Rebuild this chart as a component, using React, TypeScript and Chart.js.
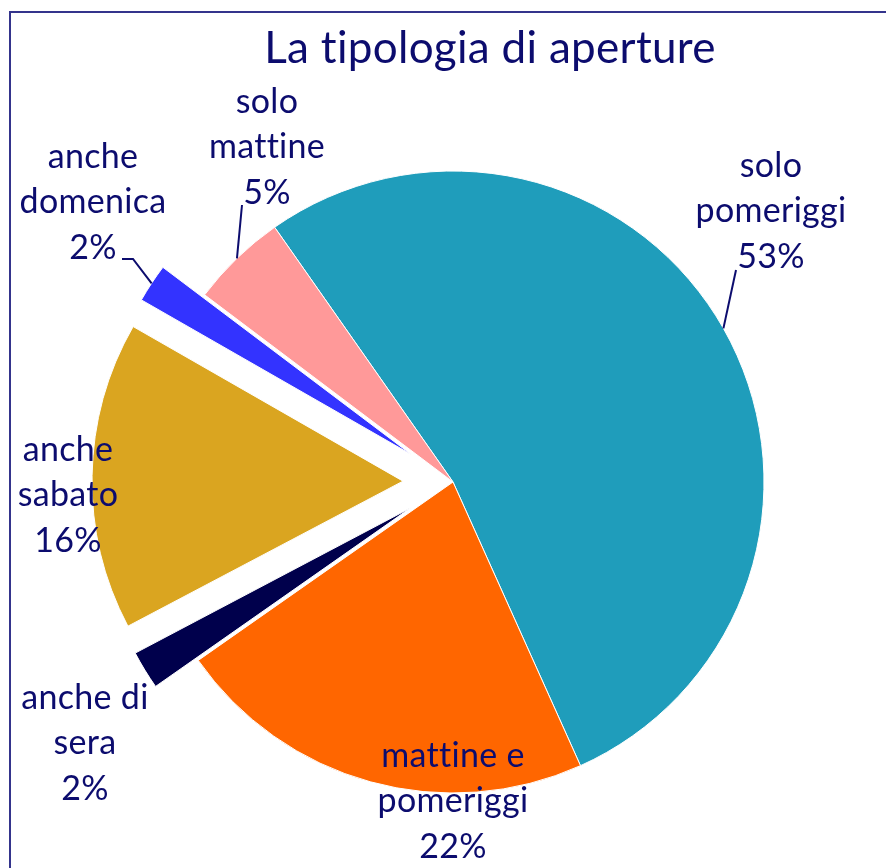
import React, { useEffect, useRef } from "react";
import { Chart, registerables } from "chart.js";

Chart.register(...registerables);

// ---- data ----
const categories = [
  "solo pomeriggi",
  "mattine e pomeriggi",
  "anche di sera",
  "anche sabato",
  "anche domenica",
  "solo mattine",
];
const values = [53, 22, 2, 16, 2, 5];
const percentLabels = ["53%", "22%", "2%", "16%", "2%", "5%"];
const labelLines = [
  ["solo", "pomeriggi"],
  ["mattine e", "pomeriggi"],
  ["anche di", "sera"],
  ["anche", "sabato"],
  ["anche", "domenica"],
  ["solo", "mattine"],
];
const exploded = [false, false, true, true, true, false];
const titleText = "La tipologia di aperture";

// ---- styles / layout ----
const sliceColors = ["#1F9DBB", "#FF6600", "#00004C", "#DAA520", "#3333FF", "#FF9999"];
const textColor = "#0C0C6E";
const frameColor = "#34348C";
const fontFamily = "Lato, 'Open Sans', sans-serif";
const labelFontSize = 34;
const titleFontSize = 44;
const lineGap = 45.5;
const explodeDistance = 50;
const pieRadius = 311;
// label block: position of the middle line's baseline relative to pie center
const labelOffsets: [number, number][] = [
  [318, -260],
  [0, 330],
  [-368, 272],
  [-385, 24],
  [-360, -269],
  [-186, -324],
];
// leader line start points (relative to pie center), optional elbow; null = no leader
const leaderStarts: ([number, number][] | null)[] = [
  [[283, -212]],
  null,
  null,
  null,
  [[-331, -223], [-320, -223]],
  [[-211, -277]],
];

function setSpacing(ctx: any) {
  try {
    ctx.letterSpacing = "0.3px";
  } catch (e) {
    /* ignore */
  }
}

const explodePlugin = {
  id: "explodePlugin",
  beforeDatasetDraw(chart: any, args: any) {
    const ctx = chart.ctx;
    const meta = args.meta;
    meta.data.forEach((el: any, i: number) => {
      ctx.save();
      if (exploded[i]) {
        const mid = (el.startAngle + el.endAngle) / 2;
        ctx.translate(Math.cos(mid) * explodeDistance, Math.sin(mid) * explodeDistance);
      }
      el.draw(ctx);
      ctx.restore();
    });
    return false;
  },
};

const decorPlugin = {
  id: "decorPlugin",
  beforeDraw(chart: any) {
    const ctx = chart.ctx;
    ctx.save();
    ctx.fillStyle = "#ffffff";
    ctx.fillRect(0, 0, chart.width, chart.height);
    ctx.strokeStyle = frameColor;
    ctx.lineWidth = 2;
    ctx.strokeRect(10, 12, chart.width + 20, chart.height + 20);
    ctx.restore();
  },
  afterDraw(chart: any) {
    const ctx = chart.ctx;
    const meta = chart.getDatasetMeta(0);
    const first = meta.data[0];
    const cx = first.x;
    const cy = first.y;
    ctx.save();
    setSpacing(ctx);
    // title
    ctx.fillStyle = textColor;
    ctx.font = `${titleFontSize}px ${fontFamily}`;
    ctx.textAlign = "center";
    ctx.textBaseline = "alphabetic";
    ctx.fillText(titleText, cx + 37, 63);

    // leader lines
    ctx.strokeStyle = textColor;
    ctx.lineWidth = 2;
    meta.data.forEach((el: any, i: number) => {
      const pts = leaderStarts[i];
      if (!pts) return;
      const mid = (el.startAngle + el.endAngle) / 2;
      const r = el.outerRadius + (exploded[i] ? explodeDistance : 0);
      ctx.beginPath();
      ctx.moveTo(cx + pts[0][0], cy + pts[0][1]);
      for (let k = 1; k < pts.length; k++) ctx.lineTo(cx + pts[k][0], cy + pts[k][1]);
      ctx.lineTo(cx + Math.cos(mid) * r, cy + Math.sin(mid) * r);
      ctx.stroke();
    });

    // labels
    ctx.font = `${labelFontSize}px ${fontFamily}`;
    ctx.fillStyle = textColor;
    meta.data.forEach((_el: any, i: number) => {
      const [dx, dy] = labelOffsets[i];
      const lines = [labelLines[i][0], labelLines[i][1], percentLabels[i]];
      lines.forEach((t, k) => {
        ctx.fillText(t, cx + dx, cy + dy + (k - 1) * lineGap);
      });
    });
    ctx.restore();
  },
};

export default function App() {
  const canvasRef = useRef<HTMLCanvasElement | null>(null);

  useEffect(() => {
    const canvas = canvasRef.current;
    if (!canvas) return;
    const chart = new Chart(canvas, {
      type: "pie",
      data: {
        labels: categories,
        datasets: [
          {
            data: values,
            backgroundColor: sliceColors,
            borderColor: "#ffffff",
            borderWidth: 1,
          },
        ],
      },
      options: {
        responsive: false,
        animation: false,
        devicePixelRatio: 1,
        rotation: -35,
        radius: pieRadius,
        layout: { padding: { left: 20, top: 96, right: 0, bottom: 0 } },
        plugins: {
          legend: { display: false },
          tooltip: { enabled: false },
          title: { display: false },
        },
      } as any,
      plugins: [explodePlugin, decorPlugin],
    });
    return () => chart.destroy();
  }, []);

  return (
    <div style={{ position: "absolute", left: 0, top: 0, width: 886, height: 868, background: "#fff" }}>
      <canvas ref={canvasRef} width={886} height={868} style={{ display: "block" }} />
    </div>
  );
}
